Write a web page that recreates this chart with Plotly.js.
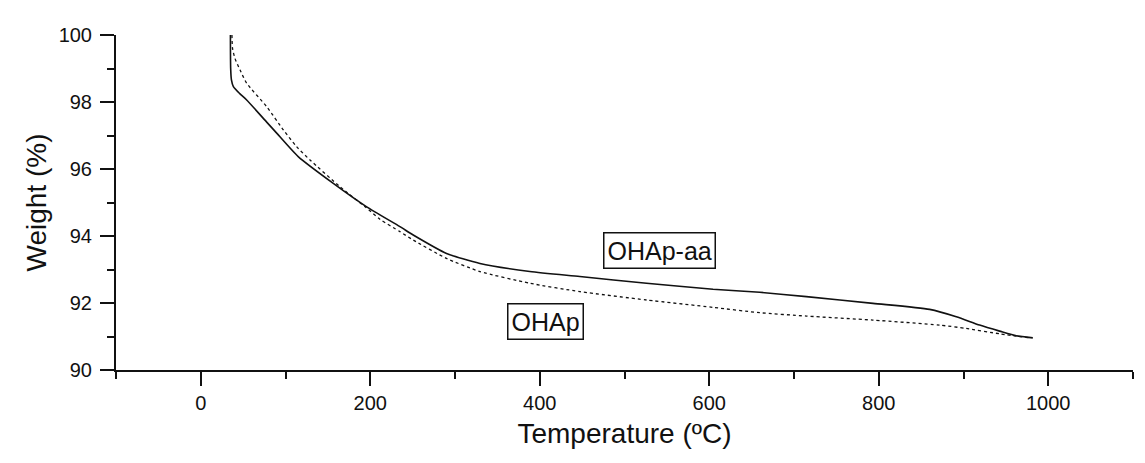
<!DOCTYPE html>
<html>
<head>
<meta charset="utf-8">
<script src="https://cdn.plot.ly/plotly-3.0.1.min.js"></script>
<style>html,body{margin:0;padding:0;background:#fff;}#chart{width:1145px;height:463px;}</style>
</head>
<body>
<div id="chart"></div>
<script>
// OHAp-aa (solid)
const aaTemp = [35, 35.3, 36.2, 38.5, 46, 54.2, 77.8, 89.6, 115, 156.4, 195.8, 235, 250.7, 290, 329.4, 388.3, 447.3, 526, 604.5, 659.6, 714.6, 793.2, 860, 891.5, 919, 942.6, 962.3, 981.8];
const aaWeight = [100, 99.0, 98.66, 98.46, 98.25, 98.06, 97.40, 97.07, 96.37, 95.57, 94.87, 94.28, 94.03, 93.48, 93.18, 92.94, 92.79, 92.59, 92.41, 92.32, 92.19, 91.99, 91.81, 91.59, 91.34, 91.16, 91.02, 90.96];
// OHAp (dotted)
const pTemp = [36.8, 37.5, 40.4, 46.3, 54.2, 77.8, 97.4, 113, 128.9, 164.3, 195, 211.4, 235, 250.7, 290, 329.4, 388.3, 447.3, 526, 604.5, 659.6, 714.6, 793, 872, 903.3, 942.6, 978];
const pWeight = [100, 99.6, 99.3, 98.96, 98.56, 97.86, 97.17, 96.67, 96.27, 95.47, 94.85, 94.50, 94.13, 93.88, 93.33, 92.94, 92.59, 92.34, 92.09, 91.87, 91.71, 91.61, 91.49, 91.34, 91.24, 91.08, 90.96];

const labels = ["OHAp-aa", "OHAp"];
const labelX = [541.6, 406.6];
const labelY = [93.58, 91.46];

const xTickVals = [0, 200, 400, 600, 800, 1000];
const yTickVals = [90, 92, 94, 96, 98, 100];

const font = "Liberation Sans, Arial, sans-serif";

const traces = [
  {x: aaTemp, y: aaWeight, mode: "lines", name: labels[0], line: {color: "#111", width: 1.6, shape: "spline", smoothing: 0.6}},
  {x: pTemp, y: pWeight, mode: "lines", name: labels[1], line: {color: "#111", width: 1.3, dash: "dot", shape: "spline", smoothing: 0.6}}
];

const annotations = labels.map((t, i) => ({
  x: labelX[i], y: labelY[i], xref: "x", yref: "y", text: t, showarrow: false,
  font: {family: font, size: 25, color: "#111"},
  bordercolor: "#111", borderwidth: 1.5, borderpad: 3, bgcolor: "rgba(255,255,255,0)"
}));

const layout = {
  width: 1145, height: 463,
  margin: {l: 116, r: 12, t: 35, b: 93},
  paper_bgcolor: "#fff", plot_bgcolor: "#fff",
  showlegend: false,
  font: {family: font, color: "#111"},
  xaxis: {
    range: [-100, 1100], showgrid: false, zeroline: false,
    showline: true, linecolor: "#111", linewidth: 2,
    ticks: "outside", ticklen: 14, tickwidth: 2, tickcolor: "#111",
    tickmode: "array", tickvals: xTickVals, ticktext: xTickVals.map(String),
    tickfont: {family: font, size: 20, color: "#111"},
    minor: {dtick: 100, tick0: 0, ticks: "outside", ticklen: 7, tickwidth: 2, tickcolor: "#111", showgrid: false},
    title: {text: "Temperature (ºC)", font: {family: font, size: 28, color: "#111"}, standoff: 10}
  },
  yaxis: {
    range: [90, 100], showgrid: false, zeroline: false,
    showline: true, linecolor: "#111", linewidth: 2,
    ticks: "outside", ticklen: 14, tickwidth: 2, tickcolor: "#111",
    ticklabelstandoff: 4,
    tickmode: "array", tickvals: yTickVals, ticktext: yTickVals.map(String),
    tickfont: {family: font, size: 20, color: "#111"},
    minor: {dtick: 1, tick0: 90, ticks: "outside", ticklen: 7, tickwidth: 2, tickcolor: "#111", showgrid: false},
    title: {text: "Weight (%)", font: {family: font, size: 28, color: "#111"}, standoff: 4}
  },
  annotations: annotations
};

Plotly.newPlot("chart", traces, layout, {displayModeBar: false, staticPlot: true});
</script>
</body>
</html>
